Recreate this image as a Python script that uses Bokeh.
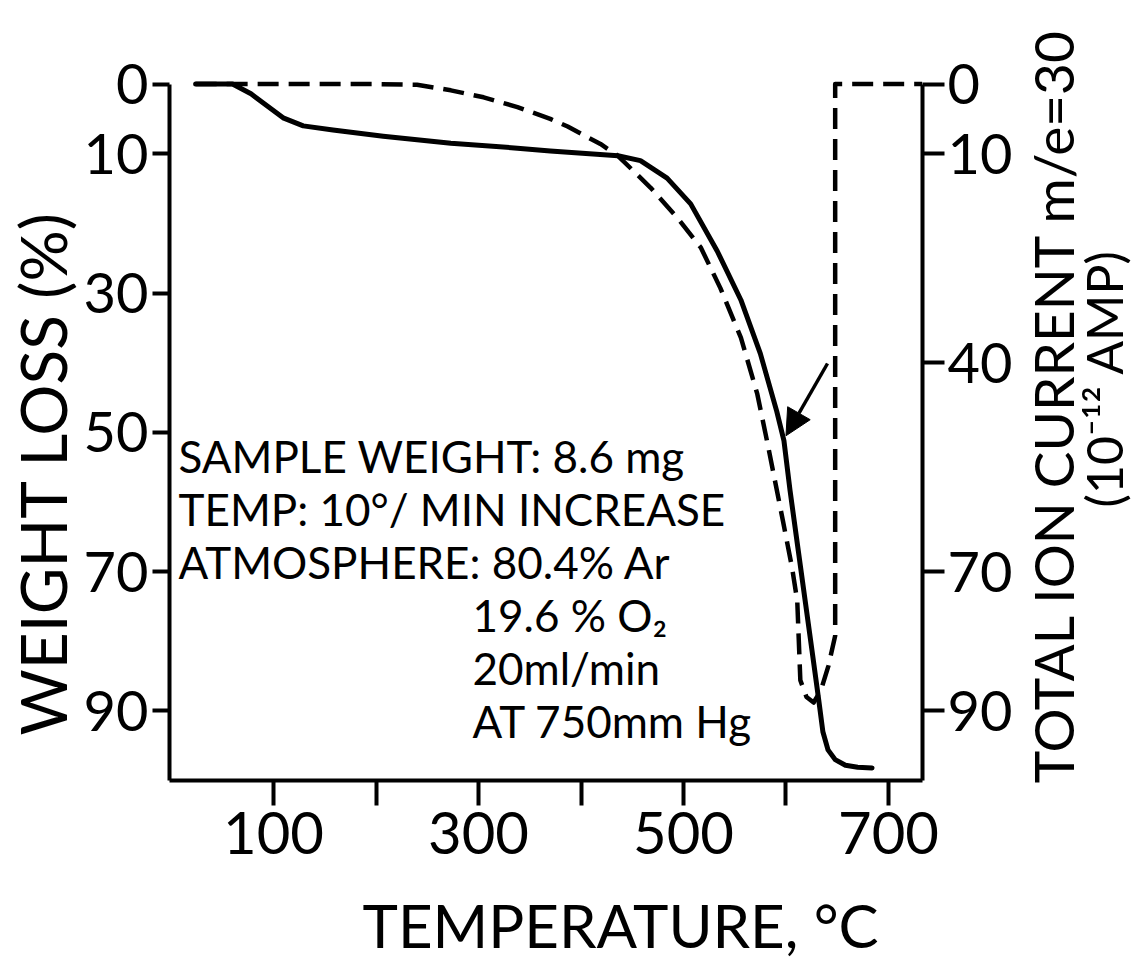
import math
from bokeh.plotting import figure
from bokeh.layouts import row
from bokeh.models import Range1d, LinearAxis, FixedTicker, Label, Arrow, NormalHead, Title
from bokeh.core.properties import value
from bokeh.embed import file_html
from bokeh.resources import INLINE

# ---------------- data ----------------
# weight loss curve (solid, left axis)
wl_temp = [24, 60, 78, 110, 129, 158, 207, 273, 338, 370, 436, 458, 484, 507, 533, 556,
           575, 591, 598, 604, 612, 619, 626, 632, 636, 641, 648, 658, 670, 684]
wl_loss = [0, 0, 1.4, 4.9, 6.0, 6.6, 7.5, 8.5, 9.2, 9.6, 10.3, 11.0, 13.5, 17.2, 24, 31,
           38.7, 47, 51.2, 58.4, 67, 74.5, 82, 88.5, 93, 95.6, 97.0, 97.8, 98.1, 98.2]

# total ion current m/e=30 (dashed, right axis)
ion_temp = [24, 100, 200, 240, 273, 305, 338, 370, 387, 419, 436, 468, 494, 517, 536, 556,
            572, 582, 597, 606, 611, 614, 620, 627, 634, 641.5, 648, 648, 733]
ion_curr = [0, 0, 0, 0.1, 0.9, 1.9, 3.3, 5.0, 6.1, 8.6, 10.3, 14.9, 19.2, 23.5, 29.3, 36.4,
            44.5, 51.6, 62.7, 69.5, 74.2, 85.6, 88.0, 88.8, 87.1, 83.5, 79.2, 0, 0]

x_major_ticks = [100, 300, 500, 700]
x_minor_ticks = [200, 400, 600]
left_ticks = [0, 10, 30, 50, 70, 90]
right_ticks = [0, 10, 40, 70, 90]

notes_left = ["SAMPLE WEIGHT: 8.6 mg", "TEMP: 10°/ MIN INCREASE", "ATMOSPHERE: 80.4% Ar"]
notes_indent = ["19.6 % O₂", "20ml/min", "AT 750mm Hg"]

x_title = "TEMPERATURE, °C"
y_title = "WEIGHT LOSS (%)"
y2_title = ["TOTAL ION CURRENT m/e=30", "(10⁻¹² AMP)"]

# ---------------- layout ----------------
FONT = "Lato"
W, H = 1140, 967
FL, FW, FH = 169, 753, 780                  # frame left, width, height (frame starts at top)
RB = 100                                     # room for right tick labels
SIDE_W = W - FL - FW - RB                    # strip holding the right-hand title
X0, X1 = -1.5, 733.2
Y_TOP, Y_BOT = -12.0, 100.0                  # value 0 sits ~83 px below the top


def dx(px):
    return X0 + (px - FL) * (X1 - X0) / FW


def dy(py):
    return Y_TOP + py * (Y_BOT - Y_TOP) / FH


p = figure(frame_width=FW, frame_height=FH,
           min_border_left=FL, min_border_right=RB,
           min_border_top=0, min_border_bottom=H - FH,
           x_range=Range1d(X0, X1), y_range=Range1d(Y_BOT, Y_TOP),
           output_backend="svg", toolbar_location=None)
p.extra_y_ranges = {"ion": Range1d(Y_BOT, Y_TOP)}
p.outline_line_color = None
p.grid.visible = False
p.background_fill_color = "white"
p.border_fill_color = "white"

right = LinearAxis(y_range_name="ion")
p.add_layout(right, "right")

for ax in (p.xaxis[0], p.yaxis[0], right):
    ax.axis_line_width = 4
    ax.axis_line_color = "black"
    ax.major_tick_line_width = 4
    ax.major_tick_line_color = "black"
    ax.major_tick_in = 0
    ax.minor_tick_in = 0
    ax.minor_tick_out = 0
    ax.major_label_text_font = FONT
    ax.major_label_text_color = "black"
    ax.major_label_text_font_size = "56px"

xa = p.xaxis[0]
xa.ticker = FixedTicker(ticks=x_major_ticks, minor_ticks=x_minor_ticks)
xa.major_tick_out = 25
xa.minor_tick_out = 25
xa.minor_tick_line_width = 4
xa.minor_tick_line_color = "black"
xa.major_label_standoff = 6
xa.major_label_text_font_size = "58px"

ya = p.yaxis[0]
ya.ticker = FixedTicker(ticks=left_ticks, minor_ticks=[])
ya.bounds = (0, Y_BOT)
ya.major_tick_out = 17
ya.major_label_standoff = 4

right.ticker = FixedTicker(ticks=right_ticks, minor_ticks=[])
right.bounds = (0, Y_BOT)
right.major_tick_out = 22
right.major_label_standoff = 3

# curves
p.line(wl_temp, wl_loss, line_width=5, line_color="black", line_join="round", line_cap="round")
p.line(ion_temp, ion_curr, y_range_name="ion", line_width=4.5, line_color="black",
       line_dash="21 10", line_join="round")

# arrow pointing at the weight-loss curve
ARROW_FROM = (dx(827), dy(363))
ARROW_TO = (600, 50.5)
p.add_layout(Arrow(end=NormalHead(size=26, fill_color="black", line_color="black"),
                   x_start=ARROW_FROM[0], y_start=ARROW_FROM[1],
                   x_end=ARROW_TO[0], y_end=ARROW_TO[1],
                   line_width=3.5, line_color="black"))

# notes inside the plot
NOTE_SIZE = "44px"
line_px = [455, 508, 561]
for t, py in zip(notes_left, line_px):
    p.add_layout(Label(x=dx(178), y=dy(py), text=t, text_font=FONT, text_font_size=NOTE_SIZE,
                       text_align="left", text_baseline="middle", text_color="black"))
indent_px = [614, 667, 720]
for t, py in zip(notes_indent, indent_px):
    p.add_layout(Label(x=dx(472), y=dy(py), text=t, text_font=FONT, text_font_size=NOTE_SIZE,
                       text_align="left", text_baseline="middle", text_color="black"))

# axis titles (as titles so they can be shifted along the axis)
p.add_layout(Title(text=y_title, align="left", offset=45, text_font=FONT,
                   text_font_size="64px", text_font_style="normal", text_color="black",
                   standoff=0), "left")
p.add_layout(Title(text=x_title, align="left", offset=193, text_font=FONT,
                   text_font_size="60px", text_font_style="normal", text_color="black",
                   standoff=60), "below")

# right-hand title strip (rotated, reading bottom to top)
SIDE_H = 800
side = figure(frame_width=SIDE_W, frame_height=SIDE_H,
              x_range=Range1d(0, SIDE_W), y_range=Range1d(SIDE_H, 0),
              min_border_left=0, min_border_right=0, min_border_top=0, min_border_bottom=0,
              output_backend="svg", toolbar_location=None,
              x_axis_location=None, y_axis_location=None)
side.outline_line_color = None
side.grid.visible = False
side.background_fill_color = "white"
side.border_fill_color = "white"
side.text(x=[1052 - (W - SIDE_W)], y=[405], text=[y2_title[0]], angle=math.pi / 2,
          text_font=value(FONT), text_font_size="55px", text_align="center",
          text_baseline="middle", text_color="black")
side.text(x=[1103 - (W - SIDE_W)], y=[378], text=[y2_title[1]], angle=math.pi / 2,
          text_font=value(FONT), text_font_size="50px", text_align="center",
          text_baseline="middle", text_color="black")

layout = row(p, side, spacing=0)
open("out.html", "w").write(file_html(layout, INLINE))
